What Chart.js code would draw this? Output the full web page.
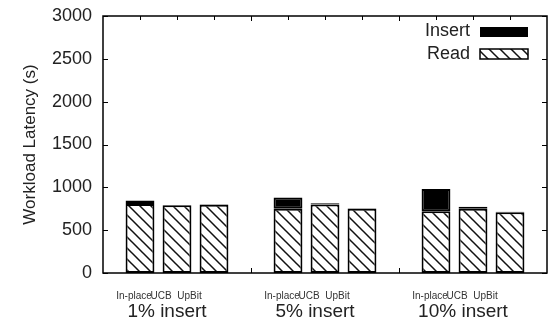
<!DOCTYPE html>
<html><head><meta charset="utf-8">
<script src="https://cdn.jsdelivr.net/npm/chart.js@4/dist/chart.umd.min.js"></script>
<style>html,body{margin:0;padding:0;background:#fff}</style>
</head><body>
<canvas id="c" width="551" height="332"></canvas>
<script>
const groups = ['1% insert', '5% insert', '10% insert'];
const methods = ['In-place', 'UCB', 'UpBit'];
const yTickValues = [0, 500, 1000, 1500, 2000, 2500, 3000];
const readInPlace = [805, 750, 720];
const insertInPlace = [40, 130, 260];
const readUCB = [790, 800, 750];
const insertUCB = [5, 13, 24];
const readUpBit = [798, 750, 708];
const insertUpBit = [5, 5, 8];

const FONT = "'Liberation Sans', Arial, Helvetica, sans-serif";
const TXT = '#222';
const canvas = document.getElementById('c');
const ctx = canvas.getContext('2d');

function makeHatch() {
  const s = 11;
  const c = document.createElement('canvas');
  c.width = s; c.height = s;
  const g = c.getContext('2d');
  g.fillStyle = '#fff'; g.fillRect(0, 0, s, s);
  g.strokeStyle = '#111'; g.lineWidth = 1.5;
  g.beginPath();
  g.moveTo(-2, -2); g.lineTo(s + 2, s + 2);
  g.moveTo(-2, s - 2); g.lineTo(2, s + 2);
  g.moveTo(s - 2, -2); g.lineTo(s + 2, 2);
  g.stroke();
  return ctx.createPattern(c, 'repeat');
}
const hatch = makeHatch();

const readSeries = [readInPlace, readUCB, readUpBit];
const insertSeries = [insertInPlace, insertUCB, insertUpBit];
const datasets = [];
methods.forEach((m, i) => {
  datasets.push({label: 'Read', method: m, stack: m, data: readSeries[i], backgroundColor: hatch,
    borderColor: '#000', borderWidth: 2, borderSkipped: false, categoryPercentage: 0.75, barPercentage: 0.78});
  datasets.push({label: 'Insert', method: m, stack: m, data: insertSeries[i], backgroundColor: '#000',
    borderColor: '#000', borderWidth: 2, borderSkipped: false, categoryPercentage: 0.75, barPercentage: 0.78});
});

const L = 103, R = 547, T = 16, B = 273;
const subLabelOffsets = [-43, -16, 12.5];

const decor = {
  id: 'decor',
  afterDraw(chart) {
    const c = chart.ctx;
    const a = chart.chartArea;
    const y = chart.scales.y, x = chart.scales.x;
    c.save();
    c.strokeStyle = '#000'; c.lineWidth = 1.5;
    c.strokeRect(a.left, a.top, a.right - a.left, a.bottom - a.top);
    c.lineWidth = 1;
    c.beginPath();
    yTickValues.forEach(v => {
      const py = Math.round(y.getPixelForValue(v)) + 0.5;
      c.moveTo(a.left, py); c.lineTo(a.left + 5, py);
      c.moveTo(a.right, py); c.lineTo(a.right - 5, py);
    });
    for (let i = 1; i < groups.length; i++) {
      const px = Math.round((x.getPixelForValue(i - 1) + x.getPixelForValue(i)) / 2) + 0.5;
      c.moveTo(px, a.bottom); c.lineTo(px, a.bottom - 5);
      c.moveTo(px, a.top); c.lineTo(px, a.top + 5);
    }
    chart.data.datasets.forEach((ds, di) => {
      if (ds.label !== 'Read') return;
      chart.getDatasetMeta(di).data.forEach(el => {
        const px = Math.round(el.x) + 0.5;
        c.moveTo(px, a.top); c.lineTo(px, a.top + 4);
      });
    });
    c.stroke();
    // per-bar method labels
    c.fillStyle = '#333'; c.font = '10px ' + FONT;
    c.textAlign = 'center'; c.textBaseline = 'middle';
    groups.forEach((g, gi) => {
      const cx = x.getPixelForValue(gi);
      methods.forEach((m, mi) => c.fillText(m, cx + subLabelOffsets[mi], 296));
    });
    // legend
    c.fillStyle = TXT;
    c.font = '18px ' + FONT; c.textAlign = 'right';
    c.fillText('Insert', 470, 31);
    c.fillText('Read', 470, 54);
    c.fillStyle = '#000'; c.fillRect(480, 27, 48, 10);
    c.fillStyle = hatch; c.fillRect(480, 49, 48, 10);
    c.lineWidth = 1.5; c.strokeStyle = '#000';
    c.strokeRect(480, 49, 48, 10);
    c.restore();
  }
};

new Chart(ctx, {
  type: 'bar',
  data: {labels: groups, datasets},
  options: {
    responsive: false, animation: false, devicePixelRatio: 1,
    layout: {padding: {left: 0, right: 551 - R, top: T, bottom: 0}},
    plugins: {legend: {display: false}, tooltip: {enabled: false}},
    scales: {
      x: {
        stacked: true,
        grid: {display: false, drawTicks: false}, border: {display: false},
        ticks: {font: {family: FONT, size: 19}, color: TXT, padding: 27, labelOffset: -10},
        afterFit: s => { s.height = 332 - B; s.paddingLeft = 0; s.paddingRight = 0; }
      },
      y: {
        stacked: true, min: 0, max: 3000,
        grid: {display: false, drawTicks: false}, border: {display: false},
        afterBuildTicks: s => { s.ticks = yTickValues.map(v => ({value: v})); },
        ticks: {font: {family: FONT, size: 18}, color: TXT, padding: 11, callback: v => String(v)},
        title: {display: true, text: 'Workload Latency (s)', font: {family: FONT, size: 17}, color: TXT, padding: {top: 20, bottom: 0}},
        afterFit: s => { s.width = L; s.paddingTop = 0; s.paddingBottom = 0; }
      }
    }
  },
  plugins: [decor]
});
</script>
</body></html>
